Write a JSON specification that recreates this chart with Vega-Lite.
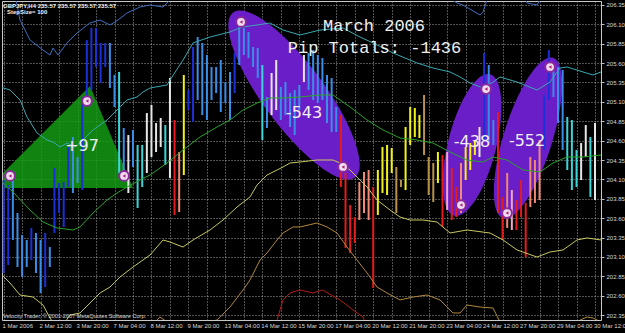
{
  "$schema": "https://vega.github.io/schema/vega-lite/v6.json",
  "width": 599,
  "height": 319,
  "autosize": {"type": "none"},
  "padding": {"left": 2, "top": 1, "right": 24, "bottom": 13},
  "background": "#000000",
  "config": {
    "view": {"stroke": "#c8c8c8", "strokeWidth": 1, "fill": "#000000"}
  },
  "encoding": {
    "x": {
      "field": "x", "type": "quantitative",
      "scale": {"domain": [-0.35, 129.3], "nice": false, "zero": false},
      "axis": {
        "orient": "bottom", "title": null,
        "values": [0,4,8,12,16,20,24,28,32,36,40,44,48,52,56,60,64,68,72,76,80,84,88,92,96,100,104,108,112,116,120,124,128],
        "labelExpr": "datum.value % 8 == 0 ? ['1 Mar 2006','2 Mar 12:00','3 Mar 20:00','7 Mar 04:00','8 Mar 12:00','9 Mar 20:00','13 Mar 04:00','14 Mar 12:00','15 Mar 20:00','17 Mar 04:00','20 Mar 12:00','21 Mar 20:00','23 Mar 04:00','24 Mar 12:00','27 Mar 20:00','29 Mar 04:00','30 Mar 12:00'][datum.value / 8] : ''",
        "labelAlign": "left", "labelBaseline": "top", "labelPadding": 2, "labelOffset": -1.5,
        "labelFontSize": 6, "labelFont": "Liberation Sans", "labelColor": "#d8d8d8",
        "labelOverlap": false, "labelFlush": false, "labelBound": false,
        "ticks": false, "domain": false,
        "grid": true, "gridColor": "#c0c0c0", "gridDash": [1, 2], "gridOpacity": 0.85, "gridWidth": 1
      }
    },
    "y": {
      "field": "y", "type": "quantitative",
      "scale": {"domain": [202.2855, 206.4016], "nice": false, "zero": false},
      "axis": {
        "orient": "right", "title": null,
        "values": [202.35,202.6,202.85,203.1,203.35,203.6,203.85,204.1,204.35,204.6,204.85,205.1,205.35,205.6,205.85,206.1,206.35],
        "format": ".2f",
        "labelFontSize": 6, "labelFont": "Liberation Sans", "labelColor": "#d8d8d8",
        "labelPadding": 2, "labelOverlap": false, "labelFlush": false,
        "ticks": true, "tickSize": 3, "tickColor": "#c0c0c0", "domain": false,
        "grid": true, "gridColor": "#c0c0c0", "gridDash": [1, 2], "gridOpacity": 0.85, "gridWidth": 1
      }
    }
  },
  "layer": [
    {
      "data": {"values": [
        {"x": -0.13, "y": 204.182, "y2": 203.989},
        {"x": 18.7, "y": 205.305, "y2": 203.989},
        {"x": 28.0, "y": 203.989, "y2": 203.989}
      ]},
      "mark": {"type": "area", "color": "#14a014", "opacity": 0.82},
      "encoding": {"y2": {"field": "y2"}}
    },
    {
      "data": {"values": [{"x": 62.86, "y": 205.189, "name": "E1"}]},
      "mark": {"type": "point", "filled": true, "color": "#6a1ec8", "opacity": 1,
               "shape": "M -1 0 A 1 0.3 0 1 1 1 0 A 1 0.3 0 1 1 -1 0 Z",
               "size": 42025, "angle": 53.6, "strokeWidth": 0}
    },
    {
      "data": {"values": [{"x": 101.4, "y": 204.544, "name": "E2"}]},
      "mark": {"type": "point", "filled": true, "color": "#6a1ec8", "opacity": 1,
               "shape": "M -1 0 A 1 0.33 0 1 1 1 0 A 1 0.33 0 1 1 -1 0 Z",
               "size": 21316, "angle": 104.1, "strokeWidth": 0}
    },
    {
      "data": {"values": [{"x": 113.5, "y": 204.634, "name": "E3"}]},
      "mark": {"type": "point", "filled": true, "color": "#6a1ec8", "opacity": 1,
               "shape": "M -1 0 A 1 0.29 0 1 1 1 0 A 1 0.29 0 1 1 -1 0 Z",
               "size": 28224, "angle": 107.3, "strokeWidth": 0}
    },
    {
      "data": {"values": [
        {"x":0,"y":204.092,"y2":202.892,"c":"B"},
        {"x":1,"y":204.027,"y2":202.995,"c":"B"},
        {"x":2,"y":204.130,"y2":203.318,"c":"L"},
        {"x":3,"y":203.666,"y2":202.969,"c":"L"},
        {"x":4,"y":203.382,"y2":202.840,"c":"L"},
        {"x":5,"y":203.318,"y2":202.969,"c":"L"},
        {"x":6,"y":203.473,"y2":203.060,"c":"B"},
        {"x":7,"y":203.408,"y2":202.892,"c":"L"},
        {"x":8,"y":203.318,"y2":202.634,"c":"L"},
        {"x":9,"y":203.408,"y2":202.711,"c":"B"},
        {"x":10,"y":203.227,"y2":202.969,"c":"L"},
        {"x":11,"y":204.247,"y2":203.408,"c":"B"},
        {"x":12,"y":204.053,"y2":203.666,"c":"B"},
        {"x":13,"y":204.066,"y2":203.486,"c":"B"},
        {"x":14,"y":204.518,"y2":204.002,"c":"B"},
        {"x":15,"y":204.647,"y2":203.924,"c":"L"},
        {"x":16,"y":204.389,"y2":204.053,"c":"L"},
        {"x":17,"y":205.163,"y2":203.963,"c":"B"},
        {"x":18,"y":205.898,"y2":205.124,"c":"B"},
        {"x":19,"y":206.053,"y2":205.253,"c":"B"},
        {"x":20,"y":206.053,"y2":205.550,"c":"B"},
        {"x":21,"y":205.860,"y2":205.343,"c":"B"},
        {"x":22,"y":205.860,"y2":205.550,"c":"B"},
        {"x":23,"y":205.860,"y2":205.279,"c":"L"},
        {"x":24,"y":205.447,"y2":205.034,"c":"L"},
        {"x":25,"y":205.486,"y2":204.182,"c":"C"},
        {"x":26,"y":204.763,"y2":204.092,"c":"L"},
        {"x":27,"y":204.672,"y2":203.924,"c":"W"},
        {"x":28,"y":204.737,"y2":204.260,"c":"L"},
        {"x":29,"y":204.544,"y2":203.731,"c":"C"},
        {"x":30,"y":204.544,"y2":204.002,"c":"C"},
        {"x":31,"y":204.956,"y2":204.182,"c":"W"},
        {"x":32,"y":205.060,"y2":204.389,"c":"W"},
        {"x":33,"y":204.827,"y2":204.453,"c":"W"},
        {"x":34,"y":204.892,"y2":204.518,"c":"W"},
        {"x":35,"y":204.801,"y2":204.285,"c":"C"},
        {"x":36,"y":205.408,"y2":204.118,"c":"W"},
        {"x":37,"y":204.866,"y2":203.640,"c":"R"},
        {"x":38,"y":204.453,"y2":203.679,"c":"S"},
        {"x":39,"y":205.447,"y2":204.156,"c":"Y"},
        {"x":40,"y":205.253,"y2":204.995,"c":"B"},
        {"x":41,"y":205.808,"y2":204.840,"c":"B"},
        {"x":42,"y":205.937,"y2":205.124,"c":"L"},
        {"x":43,"y":205.860,"y2":204.930,"c":"L"},
        {"x":44,"y":205.705,"y2":204.866,"c":"L"},
        {"x":45,"y":205.550,"y2":205.124,"c":"L"},
        {"x":46,"y":205.550,"y2":205.214,"c":"L"},
        {"x":47,"y":205.640,"y2":204.969,"c":"L"},
        {"x":48,"y":205.356,"y2":205.085,"c":"L"},
        {"x":49,"y":205.486,"y2":204.866,"c":"L"},
        {"x":50,"y":205.731,"y2":205.214,"c":"B"},
        {"x":51,"y":206.131,"y2":205.576,"c":"L"},
        {"x":52,"y":206.053,"y2":205.705,"c":"L"},
        {"x":53,"y":206.002,"y2":205.666,"c":"L"},
        {"x":54,"y":205.808,"y2":205.550,"c":"L"},
        {"x":55,"y":205.795,"y2":205.408,"c":"L"},
        {"x":56,"y":205.576,"y2":204.608,"c":"C"},
        {"x":57,"y":205.163,"y2":204.763,"c":"L"},
        {"x":58,"y":205.473,"y2":204.930,"c":"W"},
        {"x":59,"y":205.640,"y2":204.995,"c":"W"},
        {"x":60,"y":205.292,"y2":204.866,"c":"L"},
        {"x":61,"y":205.356,"y2":204.930,"c":"L"},
        {"x":62,"y":205.214,"y2":204.776,"c":"L"},
        {"x":63,"y":205.253,"y2":204.672,"c":"L"},
        {"x":64,"y":205.318,"y2":204.995,"c":"L"},
        {"x":65,"y":205.705,"y2":205.356,"c":"W"},
        {"x":66,"y":205.731,"y2":205.253,"c":"L"},
        {"x":67,"y":205.769,"y2":205.124,"c":"L"},
        {"x":68,"y":205.705,"y2":205.085,"c":"L"},
        {"x":69,"y":205.666,"y2":205.124,"c":"L"},
        {"x":70,"y":205.447,"y2":204.827,"c":"L"},
        {"x":71,"y":205.408,"y2":204.711,"c":"L"},
        {"x":72,"y":205.034,"y2":204.711,"c":"L"},
        {"x":73,"y":204.930,"y2":204.002,"c":"R"},
        {"x":74,"y":204.182,"y2":203.214,"c":"R"},
        {"x":75,"y":203.769,"y2":203.150,"c":"R"},
        {"x":76,"y":203.614,"y2":203.279,"c":"R"},
        {"x":77,"y":204.066,"y2":203.576,"c":"S"},
        {"x":78,"y":204.195,"y2":203.666,"c":"S"},
        {"x":79,"y":204.221,"y2":203.576,"c":"S"},
        {"x":80,"y":204.002,"y2":202.698,"c":"R"},
        {"x":81,"y":204.221,"y2":203.640,"c":"Y"},
        {"x":82,"y":204.518,"y2":203.924,"c":"Y"},
        {"x":83,"y":204.544,"y2":203.898,"c":"Y"},
        {"x":84,"y":204.505,"y2":204.182,"c":"Y"},
        {"x":85,"y":204.260,"y2":203.666,"c":"T"},
        {"x":86,"y":204.092,"y2":204.002,"c":"T"},
        {"x":87,"y":204.776,"y2":203.963,"c":"Y"},
        {"x":88,"y":205.034,"y2":204.544,"c":"Y"},
        {"x":89,"y":205.021,"y2":204.647,"c":"Y"},
        {"x":90,"y":204.930,"y2":204.634,"c":"Y"},
        {"x":91,"y":205.189,"y2":204.414,"c":"T"},
        {"x":92,"y":204.389,"y2":203.898,"c":"T"},
        {"x":93,"y":204.311,"y2":203.808,"c":"T"},
        {"x":94,"y":204.453,"y2":204.053,"c":"Y"},
        {"x":95,"y":204.414,"y2":203.486,"c":"R"},
        {"x":96,"y":204.453,"y2":203.705,"c":"P"},
        {"x":97,"y":204.247,"y2":203.576,"c":"R"},
        {"x":98,"y":204.002,"y2":203.614,"c":"R"},
        {"x":99,"y":204.311,"y2":203.666,"c":"S"},
        {"x":100,"y":204.518,"y2":204.092,"c":"Y"},
        {"x":101,"y":204.569,"y2":204.221,"c":"Y"},
        {"x":102,"y":204.608,"y2":204.414,"c":"Y"},
        {"x":103,"y":204.776,"y2":204.389,"c":"W"},
        {"x":104,"y":205.731,"y2":204.608,"c":"B"},
        {"x":105,"y":205.576,"y2":204.569,"c":"L"},
        {"x":106,"y":204.866,"y2":204.544,"c":"L"},
        {"x":107,"y":204.969,"y2":203.666,"c":"R"},
        {"x":108,"y":203.873,"y2":203.318,"c":"R"},
        {"x":109,"y":204.182,"y2":203.473,"c":"S"},
        {"x":110,"y":203.963,"y2":203.447,"c":"P"},
        {"x":111,"y":203.834,"y2":203.447,"c":"R"},
        {"x":112,"y":204.092,"y2":203.614,"c":"R"},
        {"x":113,"y":203.795,"y2":203.098,"c":"R"},
        {"x":114,"y":204.389,"y2":203.743,"c":"S"},
        {"x":115,"y":204.350,"y2":203.795,"c":"S"},
        {"x":116,"y":204.608,"y2":203.834,"c":"S"},
        {"x":117,"y":205.189,"y2":204.479,"c":"B"},
        {"x":118,"y":205.769,"y2":205.124,"c":"B"},
        {"x":119,"y":205.576,"y2":205.163,"c":"L"},
        {"x":120,"y":205.550,"y2":204.827,"c":"L"},
        {"x":121,"y":205.511,"y2":204.479,"c":"L"},
        {"x":122,"y":204.905,"y2":204.221,"c":"C"},
        {"x":123,"y":204.866,"y2":203.963,"c":"C"},
        {"x":124,"y":204.479,"y2":204.002,"c":"C"},
        {"x":125,"y":204.569,"y2":204.092,"c":"W"},
        {"x":126,"y":204.801,"y2":204.389,"c":"W"},
        {"x":127,"y":204.647,"y2":203.873,"c":"C"},
        {"x":128,"y":204.827,"y2":203.834,"c":"W"}
      ]},
      "mark": {"type": "rule", "strokeWidth": 2},
      "encoding": {
        "y2": {"field": "y2"},
        "color": {"field": "c", "type": "nominal", "legend": null,
          "scale": {"domain": ["B","L","C","W","Y","R","S","T","P","teal","blue","green","olive","tan","dred"],
                    "range": ["#1c30d8","#3a8ee6","#3cd4d8","#e6e6e6","#f2f21a","#e41c1c","#f08a74","#b8924a","#f0a8c8","#3aa8b0","#3f6fc0","#2aa42a","#c8c860","#b0883c","#b01c1c"]}}
      }
    },
    {
      "data": {"values": [
        {"x":-0.78,"y":205.292,"c":"teal","g":"t1"},
        {"x":1.39,"y":205.253,"c":"teal","g":"t1"},
        {"x":3.55,"y":205.124,"c":"teal","g":"t1"},
        {"x":5.06,"y":204.905,"c":"teal","g":"t1"},
        {"x":7.23,"y":204.698,"c":"teal","g":"t1"},
        {"x":9.39,"y":204.608,"c":"teal","g":"t1"},
        {"x":10.69,"y":204.582,"c":"teal","g":"t1"},
        {"x":12.21,"y":204.518,"c":"teal","g":"t1"},
        {"x":13.72,"y":204.569,"c":"teal","g":"t1"},
        {"x":15.45,"y":204.518,"c":"teal","g":"t1"},
        {"x":17.19,"y":204.608,"c":"teal","g":"t1"},
        {"x":19.35,"y":204.737,"c":"teal","g":"t1"},
        {"x":22.38,"y":204.866,"c":"teal","g":"t1"},
        {"x":24.55,"y":204.995,"c":"teal","g":"t1"},
        {"x":26.71,"y":205.124,"c":"teal","g":"t1"},
        {"x":28.87,"y":205.163,"c":"teal","g":"t1"},
        {"x":30.17,"y":205.227,"c":"teal","g":"t1"},
        {"x":31.69,"y":205.279,"c":"teal","g":"t1"},
        {"x":35.37,"y":205.318,"c":"teal","g":"t1"},
        {"x":36.02,"y":205.382,"c":"teal","g":"t1"},
        {"x":38.83,"y":205.640,"c":"teal","g":"t1"},
        {"x":41.0,"y":205.860,"c":"teal","g":"t1"},
        {"x":44.68,"y":205.937,"c":"teal","g":"t1"},
        {"x":49.0,"y":206.002,"c":"teal","g":"t1"},
        {"x":51.6,"y":206.066,"c":"teal","g":"t1"},
        {"x":54.85,"y":206.092,"c":"teal","g":"t1"},
        {"x":57.66,"y":206.118,"c":"teal","g":"t1"},
        {"x":60.48,"y":206.027,"c":"teal","g":"t1"},
        {"x":64.16,"y":205.963,"c":"teal","g":"t1"},
        {"x":68.48,"y":206.027,"c":"teal","g":"t1"},
        {"x":73.46,"y":206.053,"c":"teal","g":"t1"},
        {"x":77.14,"y":205.937,"c":"teal","g":"t1"},
        {"x":79.96,"y":205.860,"c":"teal","g":"t1"},
        {"x":84.29,"y":205.731,"c":"teal","g":"t1"},
        {"x":89.48,"y":205.602,"c":"teal","g":"t1"},
        {"x":92.94,"y":205.537,"c":"teal","g":"t1"},
        {"x":96.62,"y":205.486,"c":"teal","g":"t1"},
        {"x":98.79,"y":205.421,"c":"teal","g":"t1"},
        {"x":100.95,"y":205.343,"c":"teal","g":"t1"},
        {"x":103.77,"y":205.279,"c":"teal","g":"t1"},
        {"x":105.93,"y":205.356,"c":"teal","g":"t1"},
        {"x":107.45,"y":205.421,"c":"teal","g":"t1"},
        {"x":111.13,"y":205.356,"c":"teal","g":"t1"},
        {"x":115.45,"y":205.253,"c":"teal","g":"t1"},
        {"x":118.27,"y":205.356,"c":"teal","g":"t1"},
        {"x":120.43,"y":205.537,"c":"teal","g":"t1"},
        {"x":121.95,"y":205.550,"c":"teal","g":"t1"},
        {"x":125.41,"y":205.486,"c":"teal","g":"t1"},
        {"x":127.58,"y":205.447,"c":"teal","g":"t1"},
        {"x":129.3,"y":205.486,"c":"teal","g":"t1"},

        {"x":2.47,"y":206.479,"c":"blue","g":"b1"},
        {"x":3.55,"y":206.156,"c":"blue","g":"b1"},
        {"x":5.71,"y":205.898,"c":"blue","g":"b1"},
        {"x":8.53,"y":205.769,"c":"blue","g":"b1"},
        {"x":10.04,"y":205.705,"c":"blue","g":"b1"},
        {"x":10.69,"y":205.795,"c":"blue","g":"b1"},
        {"x":11.77,"y":205.705,"c":"blue","g":"b1"},
        {"x":13.72,"y":205.860,"c":"blue","g":"b1"},
        {"x":15.89,"y":205.989,"c":"blue","g":"b1"},
        {"x":18.7,"y":206.118,"c":"blue","g":"b1"},
        {"x":20.87,"y":206.156,"c":"blue","g":"b1"},
        {"x":23.03,"y":206.092,"c":"blue","g":"b1"},
        {"x":24.76,"y":206.156,"c":"blue","g":"b1"},
        {"x":26.71,"y":206.247,"c":"blue","g":"b1"},
        {"x":29.52,"y":206.324,"c":"blue","g":"b1"},
        {"x":31.69,"y":206.350,"c":"blue","g":"b1"},
        {"x":34.5,"y":206.324,"c":"blue","g":"b1"},
        {"x":35.58,"y":206.389,"c":"blue","g":"b1"},
        {"x":37.1,"y":206.544,"c":"blue","g":"b1"},
        {"x":95.5,"y":206.479,"c":"blue","g":"b2"},
        {"x":98.13,"y":206.376,"c":"blue","g":"b2"},
        {"x":99.4,"y":206.350,"c":"blue","g":"b2"},
        {"x":103.12,"y":206.221,"c":"blue","g":"b2"},
        {"x":103.77,"y":206.260,"c":"blue","g":"b2"},
        {"x":104.6,"y":206.414,"c":"blue","g":"b2"},
        {"x":105.3,"y":206.518,"c":"blue","g":"b2"},
        {"x":112.2,"y":206.518,"c":"blue","g":"b3"},
        {"x":113.3,"y":206.376,"c":"blue","g":"b3"},
        {"x":115.45,"y":206.350,"c":"blue","g":"b3"},
        {"x":116.5,"y":206.453,"c":"blue","g":"b3"},

        {"x":-0.78,"y":204.092,"c":"green","g":"g1"},
        {"x":2.03,"y":203.937,"c":"green","g":"g1"},
        {"x":5.71,"y":203.705,"c":"green","g":"g1"},
        {"x":8.53,"y":203.550,"c":"green","g":"g1"},
        {"x":11.56,"y":203.473,"c":"green","g":"g1"},
        {"x":15.02,"y":203.447,"c":"green","g":"g1"},
        {"x":16.54,"y":203.486,"c":"green","g":"g1"},
        {"x":19.35,"y":203.666,"c":"green","g":"g1"},
        {"x":22.38,"y":203.834,"c":"green","g":"g1"},
        {"x":24.55,"y":203.924,"c":"green","g":"g1"},
        {"x":26.71,"y":204.002,"c":"green","g":"g1"},
        {"x":29.52,"y":204.092,"c":"green","g":"g1"},
        {"x":31.69,"y":204.156,"c":"green","g":"g1"},
        {"x":35.37,"y":204.311,"c":"green","g":"g1"},
        {"x":38.83,"y":204.479,"c":"green","g":"g1"},
        {"x":42.51,"y":204.647,"c":"green","g":"g1"},
        {"x":46.19,"y":204.776,"c":"green","g":"g1"},
        {"x":49.0,"y":204.866,"c":"green","g":"g1"},
        {"x":51.82,"y":204.995,"c":"green","g":"g1"},
        {"x":54.85,"y":205.085,"c":"green","g":"g1"},
        {"x":57.66,"y":205.150,"c":"green","g":"g1"},
        {"x":60.48,"y":205.150,"c":"green","g":"g1"},
        {"x":64.16,"y":205.163,"c":"green","g":"g1"},
        {"x":68.48,"y":205.189,"c":"green","g":"g1"},
        {"x":71.3,"y":205.189,"c":"green","g":"g1"},
        {"x":74.98,"y":205.034,"c":"green","g":"g1"},
        {"x":78.66,"y":204.866,"c":"green","g":"g1"},
        {"x":82.12,"y":204.737,"c":"green","g":"g1"},
        {"x":85.8,"y":204.634,"c":"green","g":"g1"},
        {"x":89.48,"y":204.608,"c":"green","g":"g1"},
        {"x":92.94,"y":204.569,"c":"green","g":"g1"},
        {"x":96.62,"y":204.453,"c":"green","g":"g1"},
        {"x":100.3,"y":204.350,"c":"green","g":"g1"},
        {"x":103.77,"y":204.324,"c":"green","g":"g1"},
        {"x":105.93,"y":204.389,"c":"green","g":"g1"},
        {"x":108.96,"y":204.350,"c":"green","g":"g1"},
        {"x":112.42,"y":204.221,"c":"green","g":"g1"},
        {"x":116.1,"y":204.195,"c":"green","g":"g1"},
        {"x":118.92,"y":204.311,"c":"green","g":"g1"},
        {"x":121.95,"y":204.389,"c":"green","g":"g1"},
        {"x":125.41,"y":204.389,"c":"green","g":"g1"},
        {"x":129.3,"y":204.414,"c":"green","g":"g1"},

        {"x":-0.78,"y":202.892,"c":"olive","g":"o1"},
        {"x":1.39,"y":202.763,"c":"olive","g":"o1"},
        {"x":3.55,"y":202.608,"c":"olive","g":"o1"},
        {"x":6.36,"y":202.582,"c":"olive","g":"o1"},
        {"x":8.53,"y":202.479,"c":"olive","g":"o1"},
        {"x":10.04,"y":202.311,"c":"olive","g":"o1"},
        {"x":11.13,"y":202.221,"c":"olive","g":"o1"},
        {"x":12.86,"y":202.221,"c":"olive","g":"o1"},
        {"x":14.37,"y":202.350,"c":"olive","g":"o1"},
        {"x":16.54,"y":202.376,"c":"olive","g":"o1"},
        {"x":19.35,"y":202.544,"c":"olive","g":"o1"},
        {"x":20.87,"y":202.634,"c":"olive","g":"o1"},
        {"x":23.03,"y":202.711,"c":"olive","g":"o1"},
        {"x":25.19,"y":202.840,"c":"olive","g":"o1"},
        {"x":28.01,"y":202.969,"c":"olive","g":"o1"},
        {"x":30.17,"y":203.060,"c":"olive","g":"o1"},
        {"x":31.69,"y":203.124,"c":"olive","g":"o1"},
        {"x":34.5,"y":203.318,"c":"olive","g":"o1"},
        {"x":36.0,"y":203.292,"c":"olive","g":"o1"},
        {"x":38.83,"y":203.227,"c":"olive","g":"o1"},
        {"x":41.0,"y":203.318,"c":"olive","g":"o1"},
        {"x":44.68,"y":203.447,"c":"olive","g":"o1"},
        {"x":47.49,"y":203.576,"c":"olive","g":"o1"},
        {"x":50.52,"y":203.743,"c":"olive","g":"o1"},
        {"x":53.33,"y":203.873,"c":"olive","g":"o1"},
        {"x":54.85,"y":204.027,"c":"olive","g":"o1"},
        {"x":57.01,"y":204.156,"c":"olive","g":"o1"},
        {"x":59.18,"y":204.221,"c":"olive","g":"o1"},
        {"x":60.48,"y":204.260,"c":"olive","g":"o1"},
        {"x":61.99,"y":204.311,"c":"olive","g":"o1"},
        {"x":64.16,"y":204.324,"c":"olive","g":"o1"},
        {"x":67.84,"y":204.350,"c":"olive","g":"o1"},
        {"x":71.3,"y":204.350,"c":"olive","g":"o1"},
        {"x":72.81,"y":204.311,"c":"olive","g":"o1"},
        {"x":74.98,"y":204.221,"c":"olive","g":"o1"},
        {"x":76.49,"y":204.130,"c":"olive","g":"o1"},
        {"x":78.66,"y":204.002,"c":"olive","g":"o1"},
        {"x":80.82,"y":203.834,"c":"olive","g":"o1"},
        {"x":83.64,"y":203.705,"c":"olive","g":"o1"},
        {"x":85.8,"y":203.614,"c":"olive","g":"o1"},
        {"x":87.97,"y":203.576,"c":"olive","g":"o1"},
        {"x":90.78,"y":203.576,"c":"olive","g":"o1"},
        {"x":93.81,"y":203.550,"c":"olive","g":"o1"},
        {"x":96.62,"y":203.408,"c":"olive","g":"o1"},
        {"x":100.3,"y":203.447,"c":"olive","g":"o1"},
        {"x":105.28,"y":203.408,"c":"olive","g":"o1"},
        {"x":108.1,"y":203.318,"c":"olive","g":"o1"},
        {"x":111.13,"y":203.189,"c":"olive","g":"o1"},
        {"x":115.45,"y":203.098,"c":"olive","g":"o1"},
        {"x":118.27,"y":203.163,"c":"olive","g":"o1"},
        {"x":121.08,"y":203.189,"c":"olive","g":"o1"},
        {"x":124.11,"y":203.318,"c":"olive","g":"o1"},
        {"x":126.28,"y":203.344,"c":"olive","g":"o1"},
        {"x":129.3,"y":203.318,"c":"olive","g":"o1"},

        {"x":32.3,"y":202.22,"c":"tan","g":"n0"},
        {"x":33.8,"y":202.324,"c":"tan","g":"n0"},
        {"x":35.4,"y":202.260,"c":"tan","g":"n0"},
        {"x":37.1,"y":202.15,"c":"tan","g":"n0"},
        {"x":41.43,"y":202.092,"c":"tan","g":"n1"},
        {"x":43.16,"y":202.247,"c":"tan","g":"n1"},
        {"x":46.19,"y":202.285,"c":"tan","g":"n1"},
        {"x":49.0,"y":202.453,"c":"tan","g":"n1"},
        {"x":51.82,"y":202.673,"c":"tan","g":"n1"},
        {"x":53.33,"y":202.802,"c":"tan","g":"n1"},
        {"x":55.5,"y":203.060,"c":"tan","g":"n1"},
        {"x":57.01,"y":203.150,"c":"tan","g":"n1"},
        {"x":59.18,"y":203.318,"c":"tan","g":"n1"},
        {"x":60.48,"y":203.408,"c":"tan","g":"n1"},
        {"x":62.64,"y":203.486,"c":"tan","g":"n1"},
        {"x":64.16,"y":203.486,"c":"tan","g":"n1"},
        {"x":67.84,"y":203.537,"c":"tan","g":"n1"},
        {"x":70.0,"y":203.486,"c":"tan","g":"n1"},
        {"x":72.16,"y":203.408,"c":"tan","g":"n1"},
        {"x":74.33,"y":203.227,"c":"tan","g":"n1"},
        {"x":76.49,"y":203.060,"c":"tan","g":"n1"},
        {"x":78.66,"y":202.892,"c":"tan","g":"n1"},
        {"x":80.82,"y":202.711,"c":"tan","g":"n1"},
        {"x":82.99,"y":202.634,"c":"tan","g":"n1"},
        {"x":85.8,"y":202.544,"c":"tan","g":"n1"},
        {"x":88.61,"y":202.582,"c":"tan","g":"n1"},
        {"x":91.64,"y":202.608,"c":"tan","g":"n1"},
        {"x":94.46,"y":202.544,"c":"tan","g":"n1"},
        {"x":96.62,"y":202.414,"c":"tan","g":"n1"},
        {"x":97.27,"y":202.376,"c":"tan","g":"n1"},
        {"x":98.79,"y":202.376,"c":"tan","g":"n1"},
        {"x":100.3,"y":202.479,"c":"tan","g":"n1"},
        {"x":103.12,"y":202.453,"c":"tan","g":"n1"},
        {"x":105.93,"y":202.440,"c":"tan","g":"n1"},
        {"x":107.45,"y":202.260,"c":"tan","g":"n1"},
        {"x":108.5,"y":202.092,"c":"tan","g":"n1"},
        {"x":123.03,"y":202.092,"c":"tan","g":"n2"},
        {"x":124.76,"y":202.285,"c":"tan","g":"n2"},
        {"x":126.28,"y":202.324,"c":"tan","g":"n2"},
        {"x":127.58,"y":202.311,"c":"tan","g":"n2"},
        {"x":129.3,"y":202.260,"c":"tan","g":"n2"},

        {"x":58.7,"y":202.092,"c":"dred","g":"r1"},
        {"x":59.18,"y":202.285,"c":"dred","g":"r1"},
        {"x":60.48,"y":202.544,"c":"dred","g":"r1"},
        {"x":61.99,"y":202.634,"c":"dred","g":"r1"},
        {"x":64.16,"y":202.673,"c":"dred","g":"r1"},
        {"x":66.97,"y":202.634,"c":"dred","g":"r1"},
        {"x":69.0,"y":202.673,"c":"dred","g":"r1"},
        {"x":72.81,"y":202.544,"c":"dred","g":"r1"},
        {"x":75.62,"y":202.414,"c":"dred","g":"r1"},
        {"x":77.79,"y":202.324,"c":"dred","g":"r1"},
        {"x":79.3,"y":202.092,"c":"dred","g":"r1"}
      ]},
      "mark": {"type": "line", "strokeWidth": 1, "clip": true},
      "encoding": {
        "detail": {"field": "g", "type": "nominal"},
        "color": {"field": "c", "type": "nominal", "legend": null,
          "scale": {"domain": ["B","L","C","W","Y","R","S","T","P","teal","blue","green","olive","tan","dred"],
                    "range": ["#1c30d8","#3a8ee6","#3cd4d8","#e6e6e6","#f2f21a","#e41c1c","#f08a74","#b8924a","#f0a8c8","#3aa8b0","#3f6fc0","#2aa42a","#c8c860","#b0883c","#b01c1c"]}}
      }
    },
    {
      "data": {"values": [
        {"x":1.39,"y":204.144},{"x":18.05,"y":205.111},{"x":26.06,"y":204.144},
        {"x":51.39,"y":206.131},{"x":73.46,"y":204.260},{"x":104.42,"y":205.266},
        {"x":99.0,"y":203.769},{"x":108.96,"y":203.666},{"x":118.27,"y":205.550}
      ]},
      "layer": [
        {"mark": {"type": "point", "filled": true, "shape": "circle", "size": 95, "color": "#f0dcf0", "stroke": "#8a2a9a", "strokeWidth": 2, "opacity": 1}},
        {"mark": {"type": "point", "filled": true, "shape": "triangle-left", "size": 12, "color": "#b02070", "opacity": 1}}
      ]
    },
    {
      "data": {"values": [
        {"x":16.97,"y":204.531,"t":"+97"},
        {"x":65.02,"y":204.956,"t":"-543"},
        {"x":101.38,"y":204.582,"t":"-438"},
        {"x":113.29,"y":204.595,"t":"-552"}
      ]},
      "mark": {"type": "text", "font": "DejaVu Sans", "fontSize": 16, "color": "#f0f0f0", "align": "center", "baseline": "middle"},
      "encoding": {"text": {"field": "t"}}
    },
    {
      "data": {"values": [
        {"x":80.17,"y":206.079,"t":"March 2006"},
        {"x":80.28,"y":205.795,"t":"Pip Totals: -1436"}
      ]},
      "mark": {"type": "text", "font": "Liberation Mono", "fontSize": 17, "color": "#f0f0f0", "align": "center", "baseline": "middle"},
      "encoding": {"text": {"field": "t"}}
    },
    {
      "data": {"values": [
        {"x":-0.13,"y":206.343,"t":"GBPJPY,H4  235.57 235.57 235.57 235.57"},
        {"x":0.74,"y":206.26,"t":"StepSize= 100"}
      ]},
      "mark": {"type": "text", "font": "Liberation Sans", "fontSize": 6, "fontWeight": "bold", "color": "#f0f0f0", "align": "left", "baseline": "middle"},
      "encoding": {"text": {"field": "t"}}
    },
    {
      "data": {"values": [
        {"x":-0.13,"y":202.331,"t":"Velocity Trader, © 2001-2007 MetaQuotes Software Corp."}
      ]},
      "mark": {"type": "text", "font": "Liberation Sans", "fontSize": 5.6, "color": "#d8d8d8", "align": "left", "baseline": "middle"},
      "encoding": {"text": {"field": "t"}}
    }
  ]
}
